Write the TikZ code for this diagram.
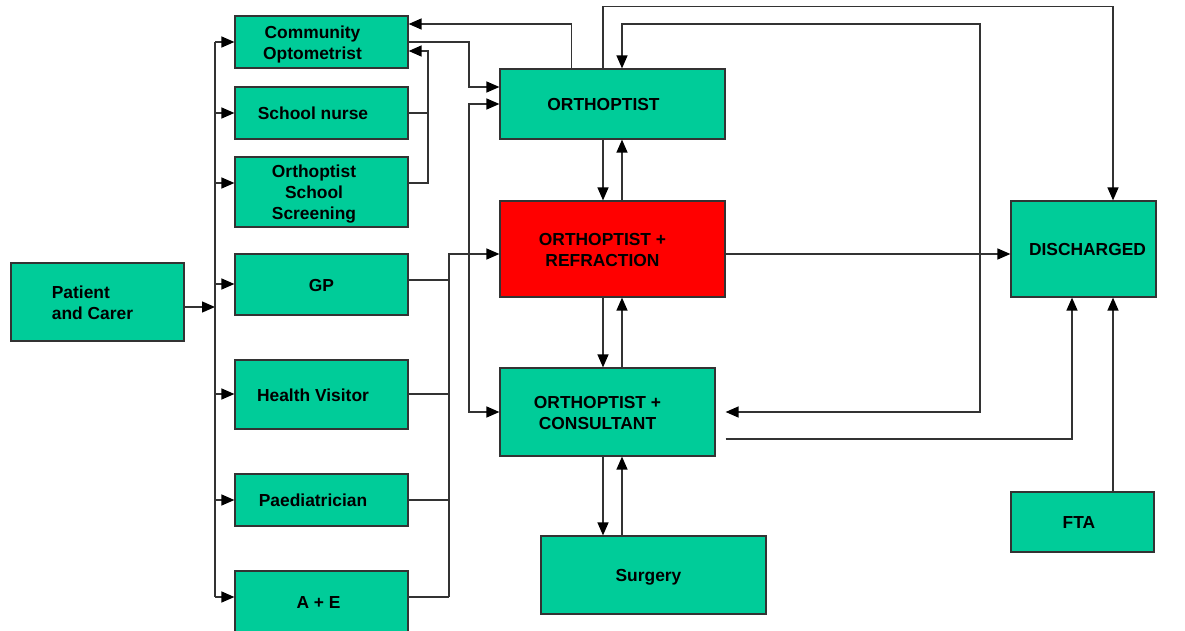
\documentclass[tikz,border=0pt]{standalone}
\usepackage{fontspec}
\setmainfont{Liberation Sans}
\usepackage{xcolor}
\usetikzlibrary{calc,positioning,arrows.meta}
\definecolor{color_box_default}{HTML}{00cc99}
\definecolor{color_box_red}{HTML}{ff0000}
\definecolor{color_line_default}{HTML}{333333}
% text block pushed left (and a little down) inside its box
\newcommand{\celltext}[3][c]{\raisebox{-2.5pt}[\height][\depth]{\begin{tabular}{@{}#1@{}}#3\end{tabular}}\hspace*{#2}}

\begin{document}
\begin{tikzpicture}[x=1pt,y=-1pt,
		every node/.style={font=\fontsize{17.4}{21}\selectfont\bfseries},
		box/.style={draw=color_line_default,line width=1.2pt,fill=color_box_default,align=center,inner sep=0pt},
		link/.style={color_line_default,line width=1.3pt},
		arr/.style={link,-{Triangle[length=13pt,width=11pt,color=black]}},
		both/.style={link,{Triangle[length=13pt,width=11pt,color=black]}-{Triangle[length=13pt,width=11pt,color=black]}}]
				\useasboundingbox (0, 0) rectangle (1185, 631);
				% Points
				\coordinate (busL) at (215, 0);
				\coordinate (busS) at (428, 0);
				\coordinate (busG) at (449, 0);
				\coordinate (busO) at (469, 0);
				\coordinate (colA) at (603, 0);
				\coordinate (colB) at (622, 0);
				\coordinate (colR) at (980, 0);
				\coordinate (colC) at (1072, 0);
				\coordinate (colD) at (1113, 0);

				% Referrers
				\node[box,minimum width=173,minimum height=78] (patient) at (97.5, 302) {\celltext[l]{10pt}{Patient\\and Carer}};
				\node[box,minimum width=173,minimum height=52] (commopt) at (321.5, 42) {\celltext{18pt}{Community\\Optometrist}};
				\node[box,minimum width=173,minimum height=52] (nurse) at (321.5, 113) {\celltext{17pt}{School nurse}};
				\node[box,minimum width=173,minimum height=70] (screening) at (321.5, 192) {\celltext{15pt}{Orthoptist\\School\\Screening}};
				\node[box,minimum width=173,minimum height=61] (gp) at (321.5, 284.5) {\celltext{0pt}{GP}};
				\node[box,minimum width=173,minimum height=69] (visitor) at (321.5, 394.5) {\celltext{17pt}{Health Visitor}};
				\node[box,minimum width=173,minimum height=52] (paed) at (321.5, 500) {\celltext{17pt}{Paediatrician}};
				\node[box,minimum width=173,minimum height=62] (ae) at (321.5, 602) {\celltext{6pt}{A + E}};

				% Clinics
				\node[box,minimum width=225,minimum height=70] (orth) at (612.5, 104) {\celltext{18pt}{ORTHOPTIST}};
				\node[box,fill=color_box_red,minimum width=225,minimum height=96] (refr) at (612.5, 249) {\celltext{20pt}{ORTHOPTIST +\\REFRACTION}};
				\node[box,minimum width=215,minimum height=88] (consult) at (607.5, 412) {\celltext{20pt}{ORTHOPTIST +\\CONSULTANT}};
				\node[box,minimum width=225,minimum height=78] (surgery) at (653.5, 575) {\celltext{10pt}{Surgery}};
				\node[box,minimum width=145,minimum height=96] (disch) at (1083.5, 249) {\hspace*{8pt}\celltext{0pt}{DISCHARGED}};
				\node[box,minimum width=143,minimum height=60] (fta) at (1082.5, 522) {\celltext{7pt}{FTA}};

				% Left bus
				\draw[arr] ($(patient.east)+(0,5)$) -- (busL |- 0,307);
				\draw[link] (busL |- 0,42) -- (busL |- 0,597);
				\foreach \n/\y in {commopt/42,nurse/113,screening/183,gp/284,visitor/394,paed/500,ae/597}
					\draw[arr] (busL |- 0,\y) -- (\n.west |- 0,\y);

				% Back to the optometrist
				\draw[link] (nurse.east) -- (busS |- nurse.east);
				\draw[arr]
					(screening.east |- 0,183) -| (busS |- 0,51) -- (commopt.east |- 0,51)
					;
				\draw[arr] ($(orth.north west)+(72,0)$) |- (commopt.east |- 0,24);
				\draw[arr] (commopt.east) -| (busO |- 0,87) -- (orth.west |- 0,87);
				\draw[both] (orth.west) -| (busO |- 0,300) |- (consult.west);

				% Second bus
				\foreach \n/\y in {gp/280,visitor/394,paed/500,ae/597}
					\draw[link] (\n.east |- 0,\y) -- (busG |- 0,\y);
				\draw[arr] (busG |- 0,597) -- (busG |- 0,254) -- (refr.west |- 0,254);

				% Up and down
				\draw[arr] (colA |- orth.south) -- (colA |- refr.north);
				\draw[arr] (colB |- refr.north) -- (colB |- orth.south);
				\draw[arr] (colA |- refr.south) -- (colA |- consult.north);
				\draw[arr] (colB |- consult.north) -- (colB |- refr.south);
				\draw[arr] (colA |- consult.south) -- (colA |- surgery.north);
				\draw[arr] (colB |- surgery.north) -- (colB |- consult.south);

				% Discharge
				\draw[arr] (colA |- orth.north) -- ++(0,-62) -| (colD |- disch.north);
				\draw[both]
					($(consult.east)+(10,0)$) -| (colR |- 0,24) -| (colB |- orth.north)
					;
				\draw[arr] (refr.east |- 0,254) -- (disch.west |- 0,254);
				\draw[arr] ($(consult.east)+(10,27)$) -| (colC |- disch.south);
				\draw[arr] (colD |- fta.north) -- (colD |- disch.south);
			\end{tikzpicture}
\end{document}
